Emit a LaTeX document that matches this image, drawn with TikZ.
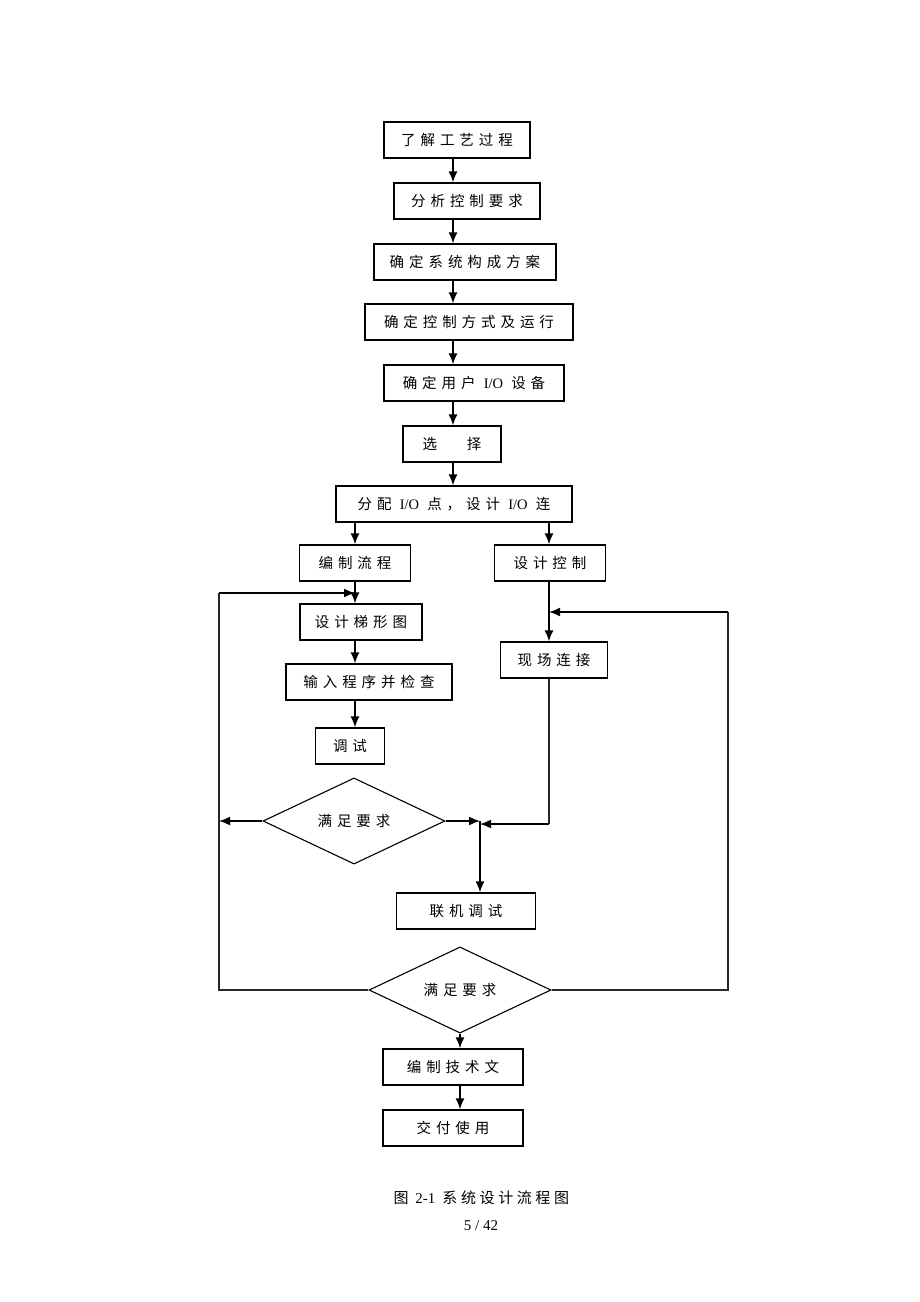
\documentclass[tikz,border=0pt]{standalone}
\usepackage{fontspec}
\setmainfont{Liberation Serif}
\newfontfamily\cjk[LetterSpace=34]{Noto Sans CJK SC}
\newfontfamily\cjkcap[LetterSpace=24]{Noto Sans CJK SC}
\usetikzlibrary{shapes.geometric, arrows.meta}

\tikzset{
    box/.style={draw, line width=1.2pt, minimum height=36pt, inner sep=0pt,
        font=\fontsize{14.5}{16}\selectfont\cjk},
    choice/.style={draw, diamond, line width=1.1pt, minimum width=182pt,
        minimum height=72pt, inner sep=0pt, font=\fontsize{14.5}{16}\selectfont\cjk},
    arr/.style={-{Latex[length=11pt,width=9pt]}, line width=1.6pt},
    ln/.style={line width=1.2pt, draw=black!85}
}

\begin{document}
\begin{tikzpicture}[x=1pt, y=-1pt]

        % Поле страницы
        \fill[white] (0,0) rectangle (920,1302);
        \useasboundingbox (0,0) rectangle (920,1302);

        % Оси стрелок
        \coordinate (ax) at (453,0);
        \coordinate (lx) at (355,0);
        \coordinate (rx) at (549,0);
        \coordinate (bx) at (460,0);

        % Основная колонка
        \node[box, minimum width=146pt] (know) at (457,140) {了解工艺过程};
        \node[box, minimum width=146pt] (analyse) at (467,201) {分析控制要求};
        \node[box, minimum width=182pt] (scheme) at (465,262) {确定系统构成方案};
        \node[box, minimum width=208pt] (mode) at (469,322) {确定控制方式及运行};
        \node[box, minimum width=180pt] (device) at (474,383) {确定用户 {\rmfamily I/O} 设备};
        \node[box, minimum width=98pt] (select) at (452,444) {选\hspace{30pt}择};
        \node[box, minimum width=236pt] (assign) at (454,504) {分配 {\rmfamily I/O} 点，设计 {\rmfamily I/O} 连};

        % Левая ветка
        \node[box, minimum width=111pt] (flow) at (355,563) {编制流程};
        \node[box, minimum width=122pt] (ladder) at (361,622) {设计梯形图};
        \node[box, minimum width=166pt] (input) at (369,682) {输入程序并检查};
        \node[box, minimum width=69pt] (debug) at (350,746) {调试};
        \node[choice] (check1) at (354,821) {满足要求};

        % Правая ветка
        \node[box, minimum width=111pt] (ctrl) at (550,563) {设计控制};
        \node[box, minimum width=107pt] (wire) at (554,660) {现场连接};

        % Низ
        \node[box, minimum width=139pt] (joint) at (466,911) {联机调试};
        \node[choice] (check2) at (460,990) {满足要求};
        \node[box, minimum width=140pt] (docs) at (453,1067) {编制技术文};
        \node[box, minimum width=140pt] (deliver) at (453,1128) {交付使用};

        % Подпись
        \node[font=\fontsize{15}{17}\selectfont, anchor=west] (caption) at (390,1198)
            {\cjkcap 图 {\rmfamily 2-1} 系统设计流程图};
        \node[font=\fontsize{15}{17}\selectfont] (page) at (481,1226) {5 / 42};

        % Стрелки основной колонки
        \draw[arr] (know.south -| ax) -- (analyse.north -| ax);
        \draw[arr] (analyse.south -| ax) -- (scheme.north -| ax);
        \draw[arr] (scheme.south -| ax) -- (mode.north -| ax);
        \draw[arr] (mode.south -| ax) -- (device.north -| ax);
        \draw[arr] (device.south -| ax) -- (select.north -| ax);
        \draw[arr] (select.south -| ax) -- (assign.north -| ax);

        % Развилка
        \draw[arr] (assign.south -| lx) -- (flow.north -| lx);
        \draw[arr] (assign.south -| rx) -- (ctrl.north -| rx);
        \draw[arr] (flow.south -| lx) -- (ladder.north -| lx);
        \draw[arr] (ladder.south -| lx) -- (input.north -| lx);
        \draw[arr] (input.south -| lx) -- (debug.north -| lx);
        \draw[arr] (ctrl.south -| rx) -- (wire.north -| rx);

        % Обратные связи
        \coordinate (fbL) at (219,593);
        \coordinate (fbTop) at (355,593);
        \coordinate (fbR) at (728,612);
        \coordinate (fbIn) at (549,612);
        \coordinate (meet) at (480,821);
        \coordinate (meetR) at (480,824);
        \draw[ln] (check2.west) -| (fbL);
        \draw[arr] (fbL) -- (fbTop);
        \draw[arr] (check1.west) -- (check1.west -| fbL);
        \draw[ln] (check2.east) -| (fbR);
        \draw[arr] (fbR) -- (fbIn);
        \draw[arr] (check1.east) -- (meet);
        \draw[ln] (wire.south -| rx) -- (meetR -| rx);
        \draw[arr] (meetR -| rx) -- (meetR);
        \draw[arr] (meet) -- (joint.north -| meet);

        % Конец
        \draw[arr] (check2.south) -- (docs.north -| bx);
        \draw[arr] (docs.south -| bx) -- (deliver.north -| bx);

\end{tikzpicture}
\end{document}
